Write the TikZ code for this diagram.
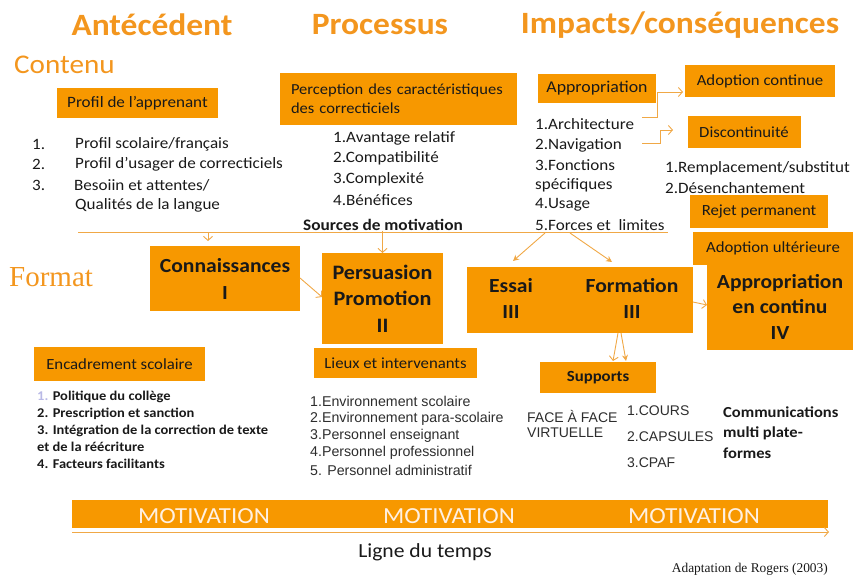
\documentclass[tikz,border=0pt]{standalone}
\usepackage{fontspec}
\setmainfont{Carlito}[FakeStretch=1.08]
\newfontfamily\arialf{Liberation Sans}
\newfontfamily\timesf{Liberation Serif}
\usetikzlibrary{arrows.meta}
\definecolor{boxor}{RGB}{247,152,0}
\definecolor{titor}{RGB}{243,150,30}
\definecolor{lineor}{RGB}{240,168,70}
\definecolor{txt}{RGB}{25,25,25}
\definecolor{atxt}{RGB}{45,45,45}
\definecolor{motiv}{RGB}{255,240,225}
\definecolor{lav}{RGB}{185,185,230}
\newcommand\fsz[1]{\fontsize{#1}{#1}\selectfont}
\begin{document}
\begin{tikzpicture}[x=1pt,y=-1pt,
  bx/.style={fill=boxor, inner sep=0pt, outer sep=0pt, align=center, text=txt},
  title/.style={text=titor, font=\fsz{31}\bfseries, inner sep=0pt},
  lt/.style={anchor=west, inner sep=0pt, text=txt, font=\fsz{15.8}},
  lb/.style={anchor=west, inner sep=0pt, text=txt, font=\fsz{13.4}\bfseries},
  la/.style={anchor=west, inner sep=0pt, text=atxt, font=\arialf\fsz{14.2}},
  bt/.style={inner sep=0pt, text=txt, font=\fsz{20}\bfseries},
  con/.style={draw=lineor, line width=0.9pt},
  oarr/.style={con, -{Straight Barb[length=4pt,width=9pt]}},
  farr/.style={con, -{Stealth[length=6pt,width=6pt]}}
]
\useasboundingbox (0,0) rectangle (853,575);

% titles
\node[title] (t1) at (152,25) {Antécédent};
\node[title] (t2) at (380,25) {Processus};
\node[title] (t3) at (680,25) {Impacts/conséquences};
\node[anchor=west, inner sep=0pt, text=titor, font=\fsz{27}] (contenu) at (14,65) {Contenu};
\node[anchor=west, inner sep=0pt, text=titor, font=\timesf\fsz{29}] (format) at (9,277) {Format};

% boxes top
\node[bx, minimum width=161pt, minimum height=30pt, font=\fsz{15.8}] (profil) at (137.5,103) {Profil de l’apprenant};
\node[bx, text width=215pt, inner xsep=11pt, minimum height=52pt, align=left, font=\fsz{15.3}] (percep) at (398.5,99) {Perception des caractéristiques\\[4pt] des correcticiels};
\node[bx, minimum width=118pt, minimum height=29pt, font=\fsz{16.5}] (approp) at (597,88.5) {Appropriation};
\node[bx, minimum width=150pt, minimum height=32pt, font=\fsz{15.5}] (adopt) at (760,81) {Adoption continue};
\node[bx, minimum width=113pt, minimum height=32pt, font=\fsz{15.5}] (discont) at (744,132) {Discontinuité};
\node[bx, minimum width=138pt, minimum height=33pt, font=\fsz{15.5}] (rejet) at (759,211.5) {Rejet permanent};
\node[bx, minimum width=160pt, minimum height=33pt, font=\fsz{15.5}] (adoptu) at (773,248.5) {Adoption ultérieure};
\node[bx, minimum width=146pt, minimum height=87pt, font=\fsz{20}\bfseries] (appcont) at (780,306.5) {Appropriation\\[5.5pt] en continu\\[5.5pt] IV};

% main boxes
\node[bx, minimum width=150pt, minimum height=65pt, font=\fsz{20}\bfseries] (conn) at (225,278.5) {Connaissances\\[7pt] I};
\node[bx, minimum width=121pt, minimum height=91pt, font=\fsz{20.5}\bfseries] (pers) at (382.5,298.5) {Persuasion\\[6pt] Promotion\\[6pt] II};
\node[bx, minimum width=226pt, minimum height=66pt] (ef) at (580,300) {};
\node[bt] (essai) at (511,286) {Essai};
\node[bt] (essai3) at (511,312) {III};
\node[bt] (form) at (632,286) {Formation};
\node[bt] (form3) at (632,312) {III};

% bottom boxes
\node[bx, minimum width=171pt, minimum height=34pt, font=\fsz{15.5}] (encad) at (119.5,364) {Encadrement scolaire};
\node[bx, minimum width=163pt, minimum height=30pt, font=\fsz{15.5}] (lieux) at (395.5,363) {Lieux et intervenants};
\node[bx, minimum width=116pt, minimum height=31pt, font=\fsz{15.5}\bfseries] (supp) at (598,377.5) {Supports};

% lists
\node[lt] (p1n) at (32,144) {1.};
\node[lt] (p2n) at (32,164) {2.};
\node[lt] (p3n) at (32,185) {3.};
\node[lt] (p1) at (75,144) {Profil scolaire/français};
\node[lt] (p2) at (75,164) {Profil d’usager de correcticiels};
\node[lt] (p3) at (74,185) {Besoiin et attentes/};
\node[lt] (p4) at (75,205) {Qualités de la langue};

\node[lt] (c1) at (333,138) {1.Avantage relatif};
\node[lt] (c2) at (333,158) {2.Compatibilité};
\node[lt] (c3) at (333,179) {3.Complexité};
\node[lt] (c4) at (333,200) {4.Bénéfices};
\node[lt, font=\fsz{16}\bfseries] (sources) at (303,225) {Sources de motivation};

\node[lt] (a1) at (535,124) {1.Architecture};
\node[lt] (a2) at (535,145) {2.Navigation};
\node[lt] (a3) at (535,165) {3.Fonctions};
\node[lt] (a3b) at (535,185) {spécifiques};
\node[lt] (a4) at (535,205) {4.Usage};
\node[lt] (a5) at (535,225) {5.Forces et\ \ limites};

\node[lt] (d1) at (665,168) {1.Remplacement/substitut};
\node[lt] (d2) at (665,188) {2.Désenchantement};

\node[lb] (e1) at (37,397) {\textcolor{lav}{1.} Politique du collège};
\node[lb] (e2) at (37,414) {2. Prescription et sanction};
\node[lb] (e3) at (37,431) {3. Intégration de la correction de texte};
\node[lb] (e3b) at (37,447) {et de la réécriture};
\node[lb] (e4) at (37,464) {4. Facteurs facilitants};

\node[la] (l1) at (310,401) {1.Environnement scolaire};
\node[la] (l2) at (310,418.5) {2.Environnement para-scolaire};
\node[la] (l3) at (310,436) {3.Personnel enseignant};
\node[la] (l4) at (310,453) {4.Personnel professionnel};
\node[la] (l5) at (310,470) {5. Personnel administratif};

\node[la, font=\arialf\fsz{14}] (f1) at (527,416) {FACE À FACE};
\node[la, font=\arialf\fsz{14}] (f2) at (527,433) {VIRTUELLE};
\node[la, font=\arialf\fsz{14}] (s1) at (627,411) {1.COURS};
\node[la, font=\arialf\fsz{14}] (s2) at (627,437) {2.CAPSULES};
\node[la, font=\arialf\fsz{14}] (s3) at (627,463) {3.CPAF};
\node[lt, font=\fsz{15.3}\bfseries] (m1) at (723,412) {Communications};
\node[lt, font=\fsz{15.3}\bfseries] (m2) at (723,433) {multi plate-};
\node[lt, font=\fsz{15.3}\bfseries] (m3) at (723,453) {formes};

% motivation bar
\node[fill=boxor, inner sep=0pt, minimum width=756pt, minimum height=28pt] (bar) at (450,514) {};
\node[inner sep=0pt, text=motiv, font=\fsz{23}] (mo1) at (204,516) {MOTIVATION};
\node[inner sep=0pt, text=motiv, font=\fsz{23}] (mo2) at (449,516) {MOTIVATION};
\node[inner sep=0pt, text=motiv, font=\fsz{23}] (mo3) at (694,516) {MOTIVATION};
\coordinate (tl0) at (72,532);
\coordinate (tl1) at (829,532);
\draw[oarr] (tl0) -- (tl1);
\node[inner sep=0pt, text=txt, font=\fsz{20}] (ligne) at (425,552) {Ligne du temps};
\node[anchor=east, inner sep=0pt, text=txt, font=\timesf\fsz{13.4}] (adapt) at (828,569) {Adaptation de Rogers (2003)};

% connectors
\coordinate (h0) at (78,232);
\coordinate (h1) at (668,232);
\draw[con] (h0) -- (h1);
\coordinate (d0) at (208,232);
\coordinate (d1) at (208,241);
\draw[oarr] (d0) -- (d1);
\draw[oarr] (sources.south -| pers.north) -- (pers.north);
\coordinate (cp0) at (300,278);
\coordinate (cp1) at (322,297);
\draw[oarr] (cp0) -- (cp1);
\coordinate (es0) at (545,233);
\coordinate (es1) at (513,261);
\draw[farr] (es0) -- (es1);
\coordinate (fo0) at (570,233);
\coordinate (fo1) at (612,262);
\draw[farr] (fo0) -- (fo1);
\coordinate (ap0) at (693,302);
\coordinate (ap1) at (707,305);
\draw[oarr] (ap0) -- (ap1);
\coordinate (su0) at (618,333);
\coordinate (su1) at (613,361);
\coordinate (su2) at (621,333);
\coordinate (su3) at (626,361);
\draw[oarr] (su0) -- (su1);
\draw[farr] (su2) -- (su3);
\coordinate (el0) at (642,117);
\coordinate (el1) at (683,92);
\draw[oarr] (el0) -- (657,117) -- (657,92) -- (el1);
\coordinate (el2) at (642,143);
\coordinate (el3) at (673,130);
\draw[oarr] (el2) -- (660,143) -- (660,130) -- (el3);
\end{tikzpicture}
\end{document}
